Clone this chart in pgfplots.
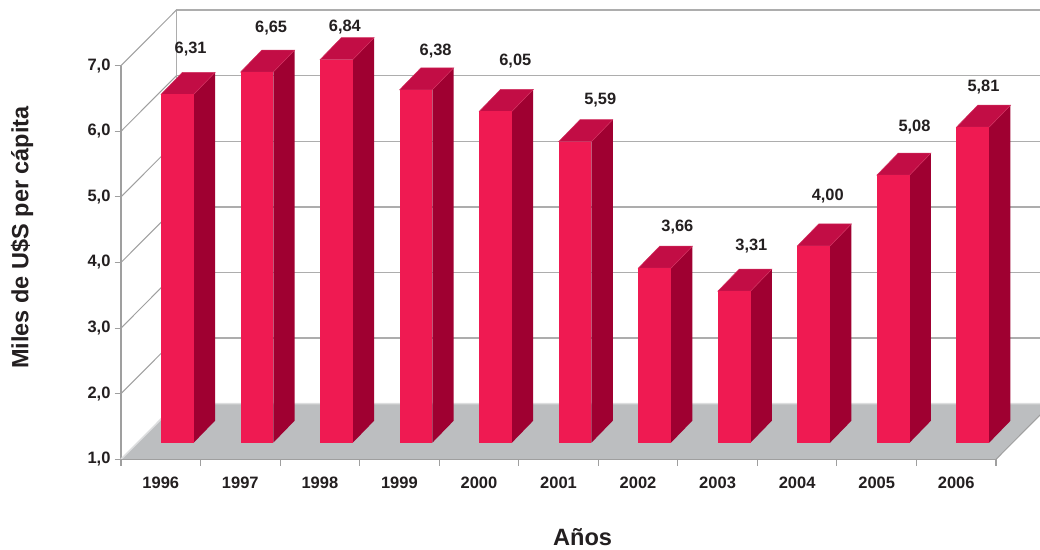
\documentclass[border=0pt]{standalone}
\usepackage{pgfplots}
\usepackage{pgfplotstable}
\usepackage{fontspec}
\setmainfont{Liberation Sans}
\pgfplotsset{compat=1.18}
\definecolor{barfront}{HTML}{EF1A52}
\definecolor{barside}{HTML}{9F0031}
\definecolor{bartop}{HTML}{C20D45}
\definecolor{baredge}{HTML}{D2305F}
\definecolor{floorc}{HTML}{BCBEC0}
\definecolor{floorl}{HTML}{DDDEDF}
\definecolor{gridc}{HTML}{ADADAD}
\definecolor{axisc}{HTML}{9F9F9F}
\definecolor{txt}{HTML}{231F20}
\pgfplotstableread{
i value label lx ly
0 6.31 6,31 0.875 7.270
1 6.65 6,65 1.887 7.590
2 6.84 6,84 2.814 7.605
3 6.38 6,38 3.955 7.239
4 6.05 6,05 4.957 7.087
5 5.59 5,59 6.025 6.492
6 3.66 3,66 6.994 4.556
7 3.31 3,31 7.925 4.267
8 4.00 4,00 8.885 5.029
9 5.08 5,08 9.975 6.081
10 5.81 5,81 10.843 6.691
}\datatable
% one 3D column: front, side and top faces, from the value in the table
\newcommand\threedbar[1]{%
  \pgfplotstablegetelem{#1}{value}\of\datatable
  \pgfmathsetmacro\xa{#1+0.503}%
  \pgfmathsetmacro\xb{\xa+0.411}%
  \pgfmathsetmacro\xc{\xb+0.268}%
  \pgfmathsetmacro\xd{\xa+0.268}%
  \pgfmathsetmacro\ya{1.253}%
  \pgfmathsetmacro\yb{\ya+0.335}%
  \pgfmathsetmacro\yt{\pgfplotsretval+0.253}%
  \pgfmathsetmacro\yu{\yt+0.335}%
  \edef\doit{%
    \noexpand\addplot[draw=none,fill=barside,forget plot] coordinates {(\xb,\ya) (\xc,\yb) (\xc,\yu) (\xb,\yt)} --cycle;
    \noexpand\addplot[draw=baredge,line width=0.5pt,fill=bartop,forget plot] coordinates {(\xa,\yt) (\xd,\yu) (\xc,\yu) (\xb,\yt)} --cycle;
    \noexpand\addplot[draw=none,fill=barfront,forget plot] coordinates {(\xa,\ya) (\xb,\ya) (\xb,\yt) (\xa,\yt)} --cycle;
  }\doit
}
\begin{document}
\begin{tikzpicture}[x=1pt,y=1pt]
\useasboundingbox (0,0) rectangle (1040,549);
\clip (0,0) rectangle (1040,549);
\begin{axis}[
  at={(121pt,89.7pt)}, anchor=south west,
  scale only axis, width=875pt, height=393.6pt,
  xmin=0, xmax=11, ymin=1, ymax=7,
  clip=false,
  axis lines=left,
  axis line style={-,draw=axisc,line width=1.2pt},
  tick style={draw=axisc,line width=1.1pt},
  tick align=outside,
  major tick length=6.5pt,
  xtick={0,...,11},
  x tick label as interval,
  xticklabels={1996,1997,1998,1999,2000,2001,2002,2003,2004,2005,2006},
  ytick={1,...,7},
  tick label style={font=\fontsize{16.5}{18}\selectfont\bfseries,text=txt},
  xticklabel style={yshift=-7.5pt},
  yticklabel style={xshift=-0.5pt,/pgf/number format/.cd,use comma,fixed,fixed zerofill,precision=1,assume math mode=true},
  xlabel={Años},
  ylabel={Miles de U\$S per cápita},
  xlabel style={font=\fontsize{23.6}{26}\selectfont\bfseries,text=txt,at={(axis description cs:0.5275,-0.198)},anchor=center},
  ylabel style={font=\fontsize{23.5}{26}\selectfont\bfseries,text=txt,at={(axis description cs:-0.113,0.5635)},anchor=center},
]
% back wall
\addplot[draw=gridc,line width=1.3pt,forget plot] coordinates {(0.696,1.848) (0.696,7.848) (11.696,7.848)};
\addplot[draw=gridc,line width=1.3pt,forget plot] coordinates {(0.696,6.848) (11.696,6.848)};
\addplot[draw=gridc,line width=1.3pt,forget plot] coordinates {(0.696,5.848) (11.696,5.848)};
\addplot[draw=gridc,line width=1.3pt,forget plot] coordinates {(0.696,4.848) (11.696,4.848)};
\addplot[draw=gridc,line width=1.3pt,forget plot] coordinates {(0.696,3.848) (11.696,3.848)};
\addplot[draw=gridc,line width=1.3pt,forget plot] coordinates {(0.696,2.848) (11.696,2.848)};
% side wall
\addplot[draw=axisc,line width=1pt,forget plot] coordinates {(0,7) (0.696,7.848)};
\addplot[draw=axisc,line width=1pt,forget plot] coordinates {(0,6) (0.696,6.848)};
\addplot[draw=axisc,line width=1pt,forget plot] coordinates {(0,5) (0.696,5.848)};
\addplot[draw=axisc,line width=1pt,forget plot] coordinates {(0,4) (0.696,4.848)};
\addplot[draw=axisc,line width=1pt,forget plot] coordinates {(0,3) (0.696,3.848)};
\addplot[draw=axisc,line width=1pt,forget plot] coordinates {(0,2) (0.696,2.848)};
% floor
\addplot[draw=none,fill=floorc,forget plot] coordinates {(0,1) (11,1) (11.696,1.848) (0.696,1.848)} --cycle;
\addplot[draw=floorl,line width=1.6pt,forget plot] coordinates {(0,1) (0.696,1.848) (11.696,1.848)};
\addplot[draw=axisc,line width=1.2pt,forget plot] coordinates {(0,1) (11,1)};
\addplot[draw=axisc,line width=1pt,forget plot] coordinates {(11,1) (11.696,1.848)};
% columns
\threedbar{0}\threedbar{1}\threedbar{2}\threedbar{3}\threedbar{4}\threedbar{5}
\threedbar{6}\threedbar{7}\threedbar{8}\threedbar{9}\threedbar{10}
% value labels
\addplot[draw=none,mark=none,forget plot,
  nodes near coords, point meta=explicit symbolic,
  every node near coord/.append style={anchor=center,inner sep=0pt,yshift=-1.5pt,text=txt,font=\fontsize{16.4}{18}\selectfont\bfseries}]
  table[x=lx,y=ly,meta=label]{\datatable};
\end{axis}
\end{tikzpicture}
\end{document}
